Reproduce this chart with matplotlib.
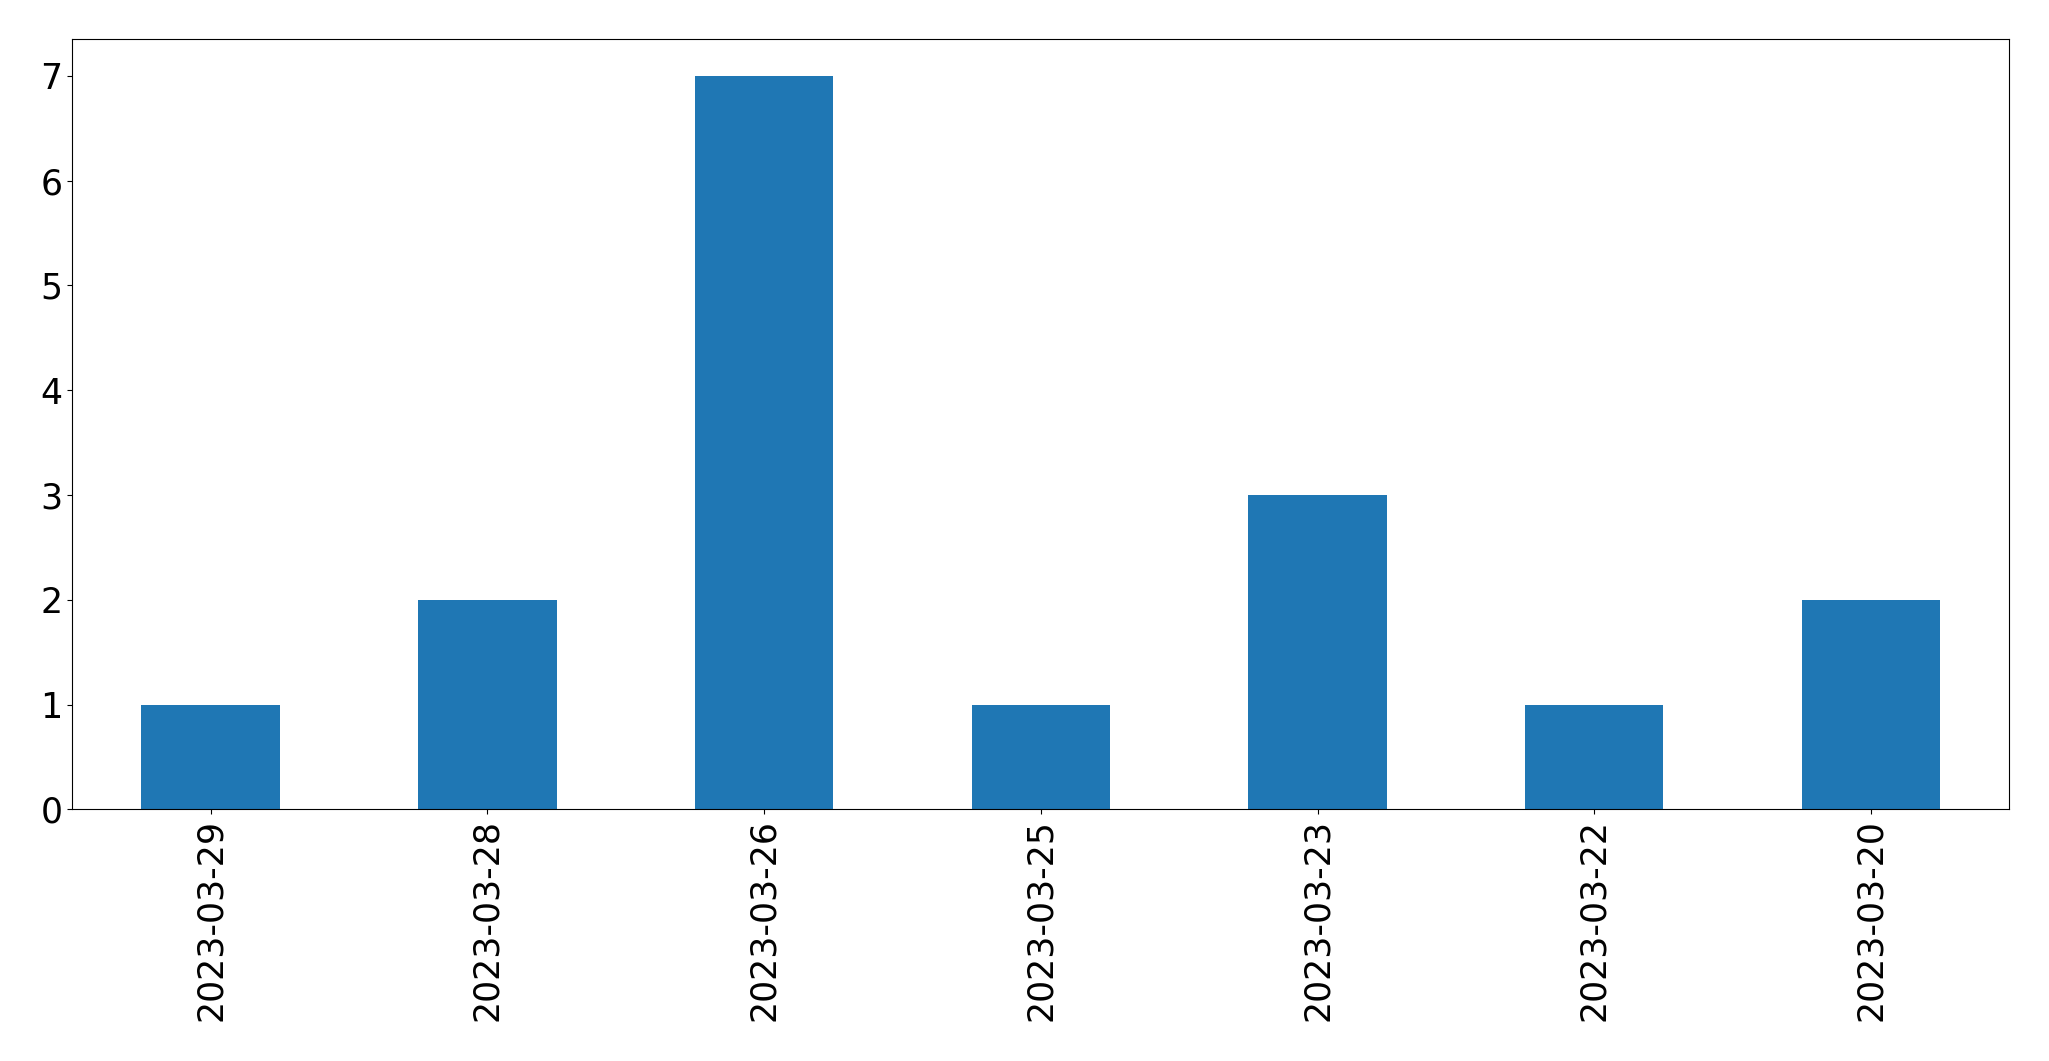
import matplotlib
matplotlib.use("Agg")
import matplotlib.pyplot as plt

dates = ["2023-03-29", "2023-03-28", "2023-03-26", "2023-03-25",
         "2023-03-23", "2023-03-22", "2023-03-20"]
counts = [1, 2, 7, 1, 3, 1, 2]

fig = plt.figure(figsize=(20.49, 10.61), dpi=100)
ax = fig.add_axes([72.3/2049, 1-809.3/1061, (2009.3-72.3)/2049, (809.3-39.3)/1061])
x = list(range(len(dates)))
ax.bar(x, counts, width=0.5, color="#1f77b4")
ax.set_xlim(-0.5, len(dates)-0.5)
ax.set_ylim(0, max(counts)*1.05)
ax.set_xticks(x)
ax.set_xticklabels(dates, rotation=90, fontsize=25)
ax.set_yticks(range(0, 8))
ax.tick_params(axis="y", labelsize=25)
fig.savefig("out.png", dpi=100)
